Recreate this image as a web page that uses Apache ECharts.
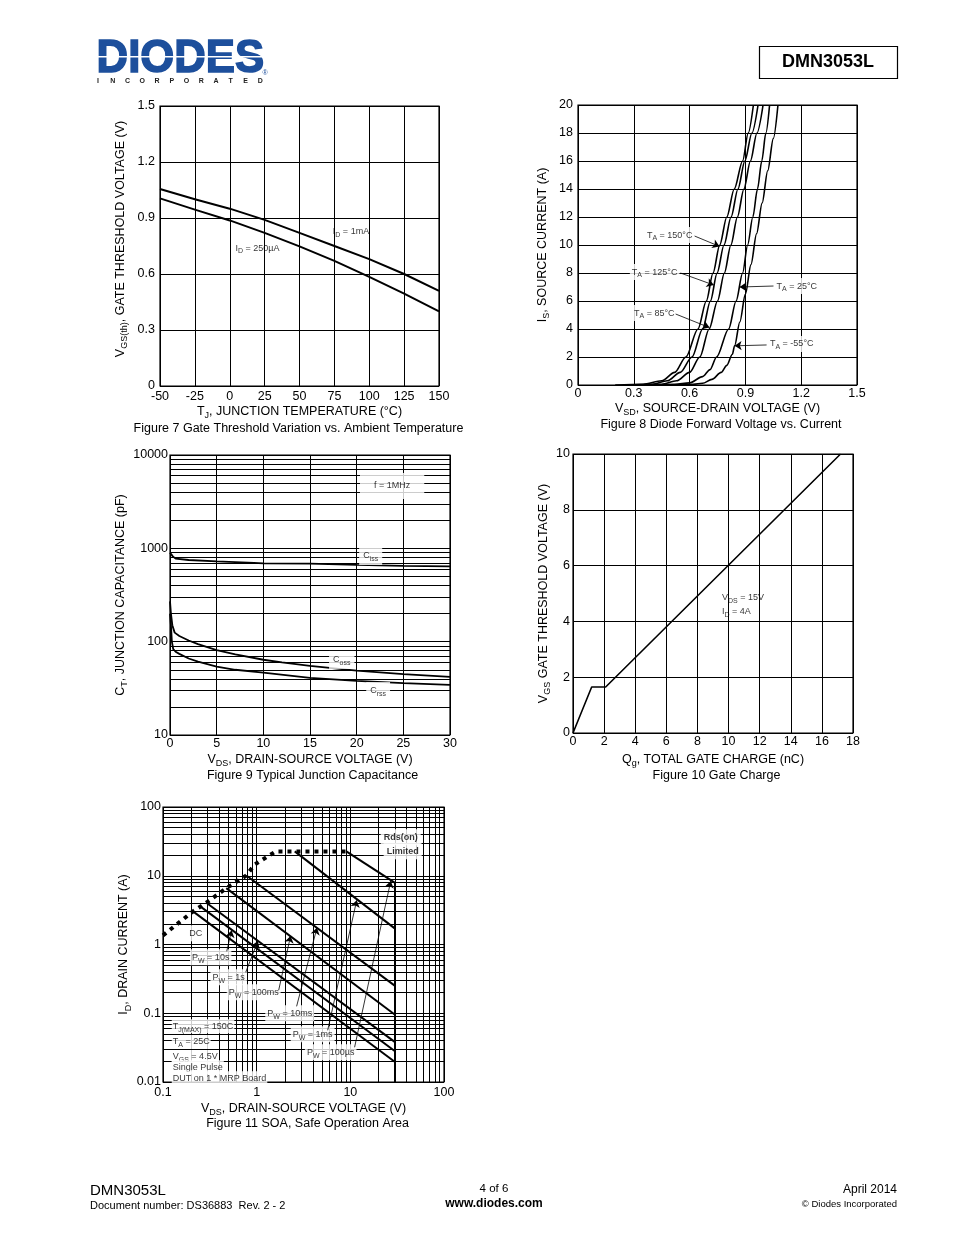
<!DOCTYPE html>
<html><head><meta charset="utf-8">
<script src="https://cdn.jsdelivr.net/npm/echarts@6.0.0/dist/echarts.min.js"></script>
<style>html,body{margin:0;padding:0;background:#fff}#c{width:954px;height:1235px}</style>
</head><body><div id="c"></div>
<script>
const FONT = '"Liberation Sans", Arial, Helvetica, sans-serif';

// ---------------- Figure 7 : Gate threshold vs temperature
const fig7Temp = [-50, -25, 0, 25, 50, 75, 100, 125, 150];
const fig7Vth1mA = [1.055, 1.0, 0.95, 0.89, 0.82, 0.75, 0.68, 0.60, 0.51];
const fig7Vth250uA = [1.005, 0.945, 0.887, 0.82, 0.748, 0.67, 0.585, 0.495, 0.40];

// ---------------- Figure 8 : Diode forward voltage vs current  [V, A]
const fig8TA150 = [[0.20,0],[0.35,0.05],[0.45,0.3],[0.52,0.9],[0.58,2],[0.645,4],[0.69,6],[0.726,8],[0.762,10],[0.80,12],[0.84,14],[0.885,16],[0.915,18],[0.943,20]];
const fig8TA125 = [[0.25,0],[0.40,0.05],[0.48,0.3],[0.55,0.9],[0.613,2],[0.67,4],[0.712,6],[0.748,8],[0.785,10],[0.823,12],[0.86,14],[0.897,16],[0.935,18],[0.968,20]];
const fig8TA85  = [[0.30,0],[0.45,0.05],[0.53,0.3],[0.60,0.9],[0.655,2],[0.705,4],[0.75,6],[0.787,8],[0.822,10],[0.857,12],[0.892,14],[0.927,16],[0.962,18],[0.995,20]];
const fig8TA25  = [[0.40,0],[0.52,0.05],[0.60,0.15],[0.67,0.6],[0.71,1.1],[0.745,2],[0.81,4],[0.85,6],[0.885,8],[0.912,10],[0.94,12],[0.965,14],[0.988,16],[1.01,18],[1.03,20]];
const fig8TAm55 = [[0.50,0],[0.62,0.05],[0.67,0.12],[0.72,0.4],[0.77,0.9],[0.80,1.4],[0.83,2.2],[0.842,2.8],[0.87,4.5],[0.90,6.5],[0.93,8.6],[0.96,10.8],[0.99,13],[1.02,15.3],[1.05,17.6],[1.075,20]];

// ---------------- Figure 9 : Junction capacitance  [V, pF]
const fig9Ciss = [[0,900],[0.3,820],[0.6,775],[2,750],[5,725],[9,700],[10,690],[15,685],[20,665],[25,650],[30,640]];
const fig9Coss = [[0,270],[0.1,200],[0.25,150],[0.5,125],[1,115],[2,103],[3,94],[5,81],[7,73],[10,64],[12,60],[15,55],[20,49],[25,45],[30,42]];
const fig9Crss = [[0,200],[0.1,150],[0.2,100],[0.35,83],[0.6,78],[1,74],[2,66],[3,61],[5,54],[7,50],[10,46.5],[15,41],[20,38],[25,36],[30,34.5]];

// ---------------- Figure 10 : Gate charge  [nC, V]
const fig10Qg = [[0,0],[1.2,1.65],[2.1,1.65],[17.2,10]];

// ---------------- Figure 11 : SOA  [V, A]
const fig11RdsOn  = [[0.1,1.36],[0.209,3.03],[0.29,4.05],[0.474,6.6],[0.776,10.1],[0.95,14.5],[1.6,22.6],[9.3,22.6]];
const fig11DC     = [[0.209,3.03],[30,0.0195]];
const fig11Pw10s  = [[0.256,3.5],[30,0.028]];
const fig11Pw1s   = [[0.29,4.05],[30,0.038]];
const fig11Pw100ms= [[0.474,6.6],[30,0.095]];
const fig11Pw10ms = [[0.776,10.1],[30,0.25]];
const fig11Pw1ms  = [[2.55,22.6],[30,1.7]];
const fig11Pw100us= [[9.06,22.6],[30,7.9]];
const fig11VdsMax = [[30,7.9],[30,0.01]];

// minor log grid positions
const minorY9 = [], minorX11 = [], minorY11 = [];
[10,100,1000].forEach(d => { for (let k = 2; k <= 9; k++) minorY9.push(d*k); });
[0.1,1,10].forEach(d => { for (let k = 2; k <= 9; k++) minorX11.push(+(d*k).toPrecision(3)); });
[0.01,0.1,1,10].forEach(d => { for (let k = 2; k <= 9; k++) minorY11.push(+(d*k).toPrecision(3)); });

// ---------------- helpers
function rich(fs, sub) {
  return {
    n: {fontSize: fs, fontFamily: FONT, color: '#000', lineHeight: fs + 5},
    s: {fontSize: sub, fontFamily: FONT, color: '#000', verticalAlign: 'bottom', lineHeight: sub - 1},
    b: {fontSize: fs, fontFamily: FONT, color: '#000', fontWeight: 'bold', lineHeight: fs + 5}
  };
}
const logFmt = v => String(+(+v).toPrecision(6));
function axisCommon(o) {
  return Object.assign({
    axisTick: {show: false},
    axisLine: {show: false},
    axisLabel: {color: '#000', fontSize: 12.5, fontFamily: FONT, margin: 4},
    splitLine: {show: true, lineStyle: {color: '#000', width: 1}},
    nameLocation: 'middle',
    nameTextStyle: {color: '#000', fontSize: 12.5, fontFamily: FONT, rich: rich(12.5, 9)}
  }, o);
}
function curve(idx, data, o) {
  o = o || {};
  return {
    type: 'line', xAxisIndex: idx, yAxisIndex: idx, data: data, symbol: 'none',
    silent: true, animation: false, z: 3, smooth: o.smooth || false, smoothMonotone: 'x',
    lineStyle: Object.assign({color: '#000', width: 1.8}, o.lineStyle || {}),
    markLine: o.markLine
  };
}
function gridLines(list) {
  return {z: 1, silent: true, symbol: ['none','none'], animation: false,
    label: {show: false}, lineStyle: {color: '#000', width: 1, type: 'solid'},
    emphasis: {disabled: true}, data: list};
}
function lbl(at, text, o) {
  o = o || {};
  const fs = o.fs || 9;
  return {value: at, label: {show: true, position: 'inside', formatter: text,
    align: o.align || 'center', verticalAlign: 'middle',
    backgroundColor: o.bg === false ? 'transparent' : '#fff',
    padding: o.pad || [1, 2], fontSize: fs, fontFamily: FONT, color: '#000',
    rich: rich(fs, o.sub || 7)}};
}
function labels(idx, items, arrows) {
  return {
    type: 'scatter', xAxisIndex: idx, yAxisIndex: idx, symbolSize: 1, z: 10, silent: true,
    animation: false, itemStyle: {color: 'rgba(0,0,0,0)'}, emphasis: {disabled: true},
    data: items,
    markLine: arrows ? {z: 11, silent: true, animation: false, symbol: ['none', 'arrow'], symbolSize: 7,
      label: {show: false}, emphasis: {disabled: true},
      lineStyle: {color: '#000', width: 0.8, type: 'solid'},
      itemStyle: {color: '#000'},
      data: arrows.map(a => [{coord: a[0]}, {coord: a[1]}])} : undefined
  };
}

const grids = [
  {left: 160, top: 106, width: 279, height: 280},
  {left: 578, top: 105, width: 279, height: 280},
  {left: 170, top: 455, width: 280, height: 280},
  {left: 573, top: 454, width: 280, height: 279},
  {left: 163, top: 807, width: 281, height: 275}
].map(g => Object.assign({show: true, borderColor: '#000', borderWidth: 1.2, containLabel: false}, g));

const xAxes = [
  axisCommon({gridIndex: 0, type: 'value', min: -50, max: 150, interval: 25, nameGap: 17,
    name: '{n|T}{s|J}{n|, JUNCTION TEMPERATURE (°C)}'}),
  axisCommon({gridIndex: 1, type: 'value', min: 0, max: 1.5, interval: 0.3, nameGap: 15,
    name: '{n|V}{s|SD}{n|, SOURCE-DRAIN VOLTAGE (V)}'}),
  axisCommon({gridIndex: 2, type: 'value', min: 0, max: 30, interval: 5, nameGap: 16,
    name: '{n|V}{s|DS}{n|, DRAIN-SOURCE VOLTAGE (V)}'}),
  axisCommon({gridIndex: 3, type: 'value', min: 0, max: 18, interval: 2, nameGap: 18,
    name: '{n|Q}{s|g}{n|, TOTAL GATE CHARGE (nC)}'}),
  axisCommon({gridIndex: 4, type: 'log', logBase: 10, min: 0.1, max: 100, nameGap: 18,
    name: '{n|V}{s|DS}{n|, DRAIN-SOURCE VOLTAGE (V)}'})
];
xAxes[4].axisLabel = Object.assign({}, xAxes[4].axisLabel, {formatter: logFmt});
xAxes[1].axisLabel = Object.assign({}, xAxes[1].axisLabel, {margin: 2});
xAxes[2].axisLabel = Object.assign({}, xAxes[2].axisLabel, {margin: 2});
xAxes[3].axisLabel = Object.assign({}, xAxes[3].axisLabel, {margin: 2});

const yAxes = [
  axisCommon({gridIndex: 0, type: 'value', min: 0, max: 1.5, interval: 0.3, nameGap: 31,
    name: '{n|V}{s|GS(th)}{n|, GATE THRESHOLD VOLTAGE (V)}'}),
  axisCommon({gridIndex: 1, type: 'value', min: 0, max: 20, interval: 2, nameGap: 27,
    name: '{n|I}{s|S}{n|, SOURCE CURRENT (A)}'}),
  axisCommon({gridIndex: 2, type: 'log', logBase: 10, min: 10, max: 10000, nameGap: 36,
    name: '{n|C}{s|T}{n|, JUNCTION CAPACITANCE (pF)}'}),
  axisCommon({gridIndex: 3, type: 'value', min: 0, max: 10, interval: 2, nameGap: 19,
    name: '{n|V}{s|GS}{n| GATE THRESHOLD VOLTAGE (V)}'}),
  axisCommon({gridIndex: 4, type: 'log', logBase: 10, min: 0.01, max: 100, nameGap: 26,
    name: '{n|I}{s|D}{n|, DRAIN CURRENT (A)}'})
];
yAxes[0].nameTextStyle = Object.assign({}, yAxes[0].nameTextStyle, {padding: [0, 0, 0, 14]});
yAxes[0].axisLabel = Object.assign({}, yAxes[0].axisLabel, {margin: 5});
yAxes[1].axisLabel = Object.assign({}, yAxes[1].axisLabel, {margin: 5});
yAxes[2].axisLabel = Object.assign({}, yAxes[2].axisLabel, {margin: 2, formatter: logFmt});
yAxes[3].axisLabel = Object.assign({}, yAxes[3].axisLabel, {margin: 3});
yAxes[4].axisLabel = Object.assign({}, yAxes[4].axisLabel, {margin: 2, formatter: logFmt});

const series = [];
// Fig 7
series.push(curve(0, fig7Temp.map((t, i) => [t, fig7Vth1mA[i]]), {lineStyle: {width: 2}}));
series.push(curve(0, fig7Temp.map((t, i) => [t, fig7Vth250uA[i]]), {lineStyle: {width: 2}}));
series.push(labels(0, [
  lbl([86.9, 0.825], '{n|I}{s|D}{n| = 1mA}', {bg: false}),
  lbl([19.9, 0.739], '{n|I}{s|D}{n| = 250µA}', {bg: false})
]));
// Fig 8
[fig8TA150, fig8TA125, fig8TA85, fig8TA25, fig8TAm55].forEach(d =>
  series.push(curve(1, d, {smooth: 0.3, lineStyle: {width: 1.6}})));
series.push(labels(1, [
  lbl([0.493, 10.71], '{n|T}{s|A}{n| = 150°C}'),
  lbl([0.412, 8.07], '{n|T}{s|A}{n| = 125°C}'),
  lbl([0.410, 5.14], '{n|T}{s|A}{n| = 85°C}'),
  lbl([1.176, 7.07], '{n|T}{s|A}{n| = 25°C}'),
  lbl([1.149, 2.93], '{n|T}{s|A}{n| = -55°C}')
], [
  [[0.627, 10.64], [0.761, 9.9]],
  [[0.551, 8.0], [0.730, 7.14]],
  [[0.525, 5.07], [0.707, 4.1]],
  [[1.051, 7.07], [0.869, 7.0]],
  [[1.014, 2.86], [0.842, 2.8]]
]));
// Fig 9
series.push(curve(2, fig9Ciss, {markLine: gridLines(minorY9.map(v => ({yAxis: v})))}));
series.push(curve(2, fig9Coss));
series.push(curve(2, fig9Crss));
series.push(labels(2, [
  lbl([23.8, 4657], '{n|f = 1MHz}', {pad: [6, 14]}),
  lbl([21.5, 828], '{n|C}{s|iss}', {pad: [2, 4]}),
  lbl([18.4, 63.7], '{n|C}{s|oss}', {pad: [2, 4]}),
  lbl([22.3, 29.6], '{n|C}{s|rss}', {pad: [2, 4]})
]));
// Fig 10
series.push(curve(3, fig10Qg, {lineStyle: {width: 1.6}}));
series.push(labels(3, [
  lbl([9.45, 4.59], '{n|V}{s|DS}{n| = 15V}\n{n|I}{s|D}{n| = 4A}', {align: 'left', bg: false})
]));
// Fig 11
series.push(curve(4, fig11RdsOn, {lineStyle: {width: 4, type: [4, 5], cap: 'butt'},
  markLine: gridLines(minorX11.map(v => ({xAxis: v})).concat(minorY11.map(v => ({yAxis: v}))))}));
[fig11DC, fig11Pw10s, fig11Pw1s, fig11Pw100ms, fig11Pw10ms, fig11Pw1ms, fig11Pw100us, fig11VdsMax].forEach(d =>
  series.push(curve(4, d, {lineStyle: {width: 2}})));
series.push(labels(4, [
  lbl([34.5, 36.2], '{b|Rds(on)}', {pad: [1, 3]}),
  lbl([36.2, 22.7], '{b|Limited}', {pad: [1, 3]}),
  lbl([0.2234, 1.456], '{n|DC}'),
  lbl([0.323, 0.652], '{n|P}{s|W}{n| = 10s}'),
  lbl([0.502, 0.333], '{n|P}{s|W}{n| = 1s}'),
  lbl([0.930, 0.202], '{n|P}{s|W}{n| = 100ms}'),
  lbl([2.253, 0.0998], '{n|P}{s|W}{n| = 10ms}'),
  lbl([3.96, 0.0494], '{n|P}{s|W}{n| = 1ms}'),
  lbl([6.17, 0.0270], '{n|P}{s|W}{n| = 100µs}'),
  lbl([0.124, 0.0646], '{n|T}{s|J(MAX)}{n| = 150C}', {align: 'left', pad: [0, 1]}),
  lbl([0.124, 0.0382], '{n|T}{s|A}{n| = 25C}', {align: 'left', pad: [0, 1]}),
  lbl([0.124, 0.0231], '{n|V}{s|GS}{n| = 4.5V}', {align: 'left', pad: [0, 1]}),
  lbl([0.124, 0.01637], '{n|Single Pulse}', {align: 'left', pad: [0, 1]}),
  lbl([0.124, 0.01132], '{n|DUT on 1 * MRP Board}', {align: 'left', pad: [0, 1]})
], [
  [[0.479, 0.796], [0.54, 1.6]],
  [[0.764, 0.394], [1.03, 1.12]],
  [[1.718, 0.216], [2.3, 1.33]],
  [[2.67, 0.126], [4.4, 1.75]],
  [[5.73, 0.0565], [11.7, 4.4]],
  [[11.1, 0.032], [27.0, 8.4]]
]));

// ---------------- page text
const graphics = [];
function txt(x, y, text, o) {
  o = o || {};
  const st = {text: text, fontSize: o.fs || 12.5, fontFamily: FONT, fontWeight: o.bold ? 'bold' : 'normal',
      fill: o.fill || '#000', align: o.align || 'center', verticalAlign: 'middle'};
  if (o.stroke) { st.stroke = o.stroke; st.lineWidth = o.lw || 1; }
  graphics.push({type: 'text', x: x, y: y, silent: true, z: 20, scaleX: o.scaleX || 1, originX: x,
    style: st});
}
// logo
txt(92, 59, 'DIODES', {fs: 46, bold: true, fill: '#1d4f9c', stroke: '#1d4f9c', lw: 1.6, align: 'left', scaleX: 0.95});
graphics.push({type: 'rect', silent: true, z: 21, shape: {x: 92, y: 56, width: 172, height: 1.6}, style: {fill: '#fff'}});
'INCORPORATED'.split('').forEach((ch, i) => txt(98 + i * 14.75, 81, ch, {fs: 7, bold: true, fill: '#222'}));
txt(265, 73, '®', {fs: 7, fill: '#1d4f9c'});
graphics.push({type: 'rect', silent: true, z: 19, shape: {x: 759.5, y: 46.5, width: 138, height: 32}, style: {fill: '#fff', stroke: '#000', lineWidth: 1.2}});
txt(828, 62.5, 'DMN3053L', {fs: 18, bold: true});
// captions
txt(298.5, 429, 'Figure 7 Gate Threshold Variation vs. Ambient Temperature');
txt(721, 425, 'Figure 8 Diode Forward Voltage vs. Current');
txt(312.5, 776, 'Figure 9 Typical Junction Capacitance');
txt(716.5, 776, 'Figure 10 Gate Charge');
txt(307.5, 1124, 'Figure 11 SOA, Safe Operation Area');
// footer
txt(90, 1191, 'DMN3053L', {fs: 15, align: 'left'});
txt(90, 1206, 'Document number: DS36883  Rev. 2 - 2', {fs: 11, align: 'left'});
txt(494, 1189, '4 of 6', {fs: 11.5});
txt(494, 1204, 'www.diodes.com', {fs: 12, bold: true});
txt(897, 1190, 'April 2014', {fs: 12, align: 'right'});
txt(897, 1204, '© Diodes Incorporated', {fs: 9.5, align: 'right'});

const chart = echarts.init(document.getElementById('c'));
chart.setOption({
  animation: false,
  backgroundColor: '#fff',
  textStyle: {fontFamily: FONT},
  grid: grids, xAxis: xAxes, yAxis: yAxes, series: series, graphic: graphics
});
</script></body></html>
